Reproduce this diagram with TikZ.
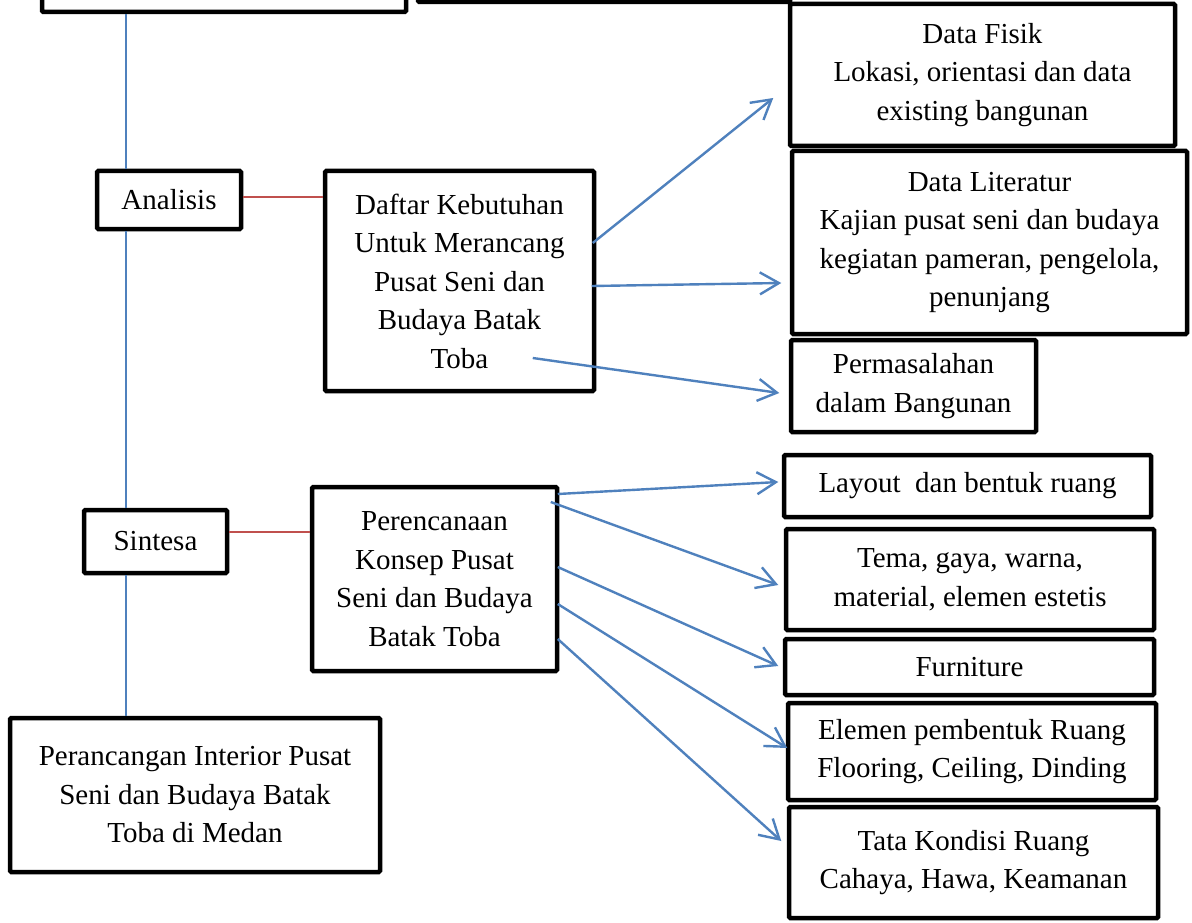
\documentclass[tikz,border=0pt]{standalone}
\usepackage{fontspec}
\setmainfont{Liberation Serif}
\usetikzlibrary{arrows.meta}
\definecolor{lineblue}{RGB}{79,129,189}
\definecolor{linered}{RGB}{192,80,77}
\tikzset{
  box/.style={draw=black, line width=4.5pt, rounded corners=1.2pt, fill=white,
    align=center, inner sep=0pt,
    font=\fontsize{29pt}{38.5pt}\selectfont},
  vline/.style={draw=lineblue, line width=2pt},
  rline/.style={draw=linered, line width=2pt},
  arr/.style={draw=lineblue, line width=2.4pt, -{Straight Barb[length=19pt,width=22pt,line width=2.4pt]}},
}
\begin{document}
\begin{tikzpicture}[x=1pt,y=-1pt]
\useasboundingbox (0,0) rectangle (1192,923);
\clip (0,0) rectangle (1192,923);
\fill[white] (0,0) rectangle (1192,923);
% cut-off boxes at the top
\node[box, minimum width=364pt, minimum height=72pt] (tl) at (224,-24) {};
\node[box, minimum width=372pt, minimum height=62pt] (tm) at (604,-29) {};
% left column
\node[box, minimum width=144pt, minimum height=58pt] (ana) at (169,200) {Analisis};
\node[box, minimum width=143pt, minimum height=63pt] (sin) at (155.5,541.5) {Sintesa};
\node[box, minimum width=370pt, minimum height=154pt] (pic) at (195,795)
  {Perancangan Interior Pusat\\Seni dan Budaya Batak\\Toba di Medan};
% middle column
\node[box, minimum width=269pt, minimum height=220pt] (daf) at (459.5,281)
  {Daftar Kebutuhan\\Untuk Merancang\\Pusat Seni dan\\Budaya Batak\\Toba};
\node[box, minimum width=245pt, minimum height=184pt] (per) at (434.5,579)
  {Perencanaan\\Konsep Pusat\\Seni dan Budaya\\Batak Toba};
% right column
\node[box, minimum width=385pt, minimum height=142pt] (fis) at (982.5,75)
  {Data Fisik\\Lokasi, orientasi dan data\\existing bangunan};
\node[box, minimum width=395pt, minimum height=183pt] (lit) at (989.5,242.5)
  {Data Literatur\\Kajian pusat seni dan budaya\\kegiatan pameran, pengelola,\\penunjang};
\node[box, minimum width=245pt, minimum height=92pt] (mas) at (913.5,386)
  {Permasalahan\\dalam Bangunan};
\node[box, minimum width=367pt, minimum height=62pt] (lay) at (967.5,486)
  {Layout~~dan bentuk ruang};
\node[box, minimum width=368pt, minimum height=101pt] (tem) at (970,579.5)
  {Tema, gaya, warna,\\material, elemen estetis};
\node[box, minimum width=369pt, minimum height=56pt] (fur) at (969.5,667)
  {Furniture};
\node[box, minimum width=368pt, minimum height=97pt] (ele) at (972,751.5)
  {Elemen pembentuk Ruang\\Flooring, Ceiling, Dinding};
\node[box, minimum width=369pt, minimum height=111pt] (tat) at (973.5,862.5)
  {Tata Kondisi Ruang\\Cahaya, Hawa, Keamanan};
% vertical spine
\coordinate (vx) at (126,0);
\draw[vline] (tl.south -| vx) -- (ana.north -| vx);
\draw[vline] (ana.south -| vx) -- (sin.north -| vx);
\draw[vline] (sin.south -| vx) -- (pic.north -| vx);
% red links
\draw[rline] ([yshift=3pt]ana.east) -- ([yshift=3pt]ana.east -| daf.west);
\draw[rline] ([yshift=9.5pt]sin.east) -- ([yshift=9.5pt]sin.east -| per.west);
% arrows from Daftar Kebutuhan
\draw[arr] ([xshift=-3.5pt,yshift=38pt]daf.east) -- ([xshift=-14.5pt,yshift=-23pt]fis.west);
\draw[arr] ([xshift=-4.5pt,yshift=-5pt]daf.east) -- ([xshift=-8.5pt,yshift=-40.5pt]lit.west);
\draw[arr] ([xshift=-63.5pt,yshift=-77pt]daf.east) -- ([xshift=-9.5pt,yshift=-7pt]mas.west);
% arrows from Perencanaan
\draw[arr] ([xshift=-1.5pt,yshift=85pt]per.east) -- ([xshift=-3.5pt,yshift=4pt]lay.west);
\draw[arr] ([xshift=-8.5pt,yshift=77pt]per.east) -- ([xshift=-5.5pt,yshift=-5.5pt]tem.west);
\draw[arr] ([xshift=-1.5pt,yshift=12pt]per.east) -- ([xshift=-4.5pt,yshift=1pt]fur.west);
\draw[arr] ([xshift=-1.5pt,yshift=-25pt]per.east) -- ([xshift=1.5pt,yshift=3.5pt]ele.west);
\draw[arr] ([xshift=-1.5pt,yshift=-60pt]per.east) -- ([xshift=-5.5pt,yshift=21.5pt]tat.west);
\end{tikzpicture}
\end{document}
